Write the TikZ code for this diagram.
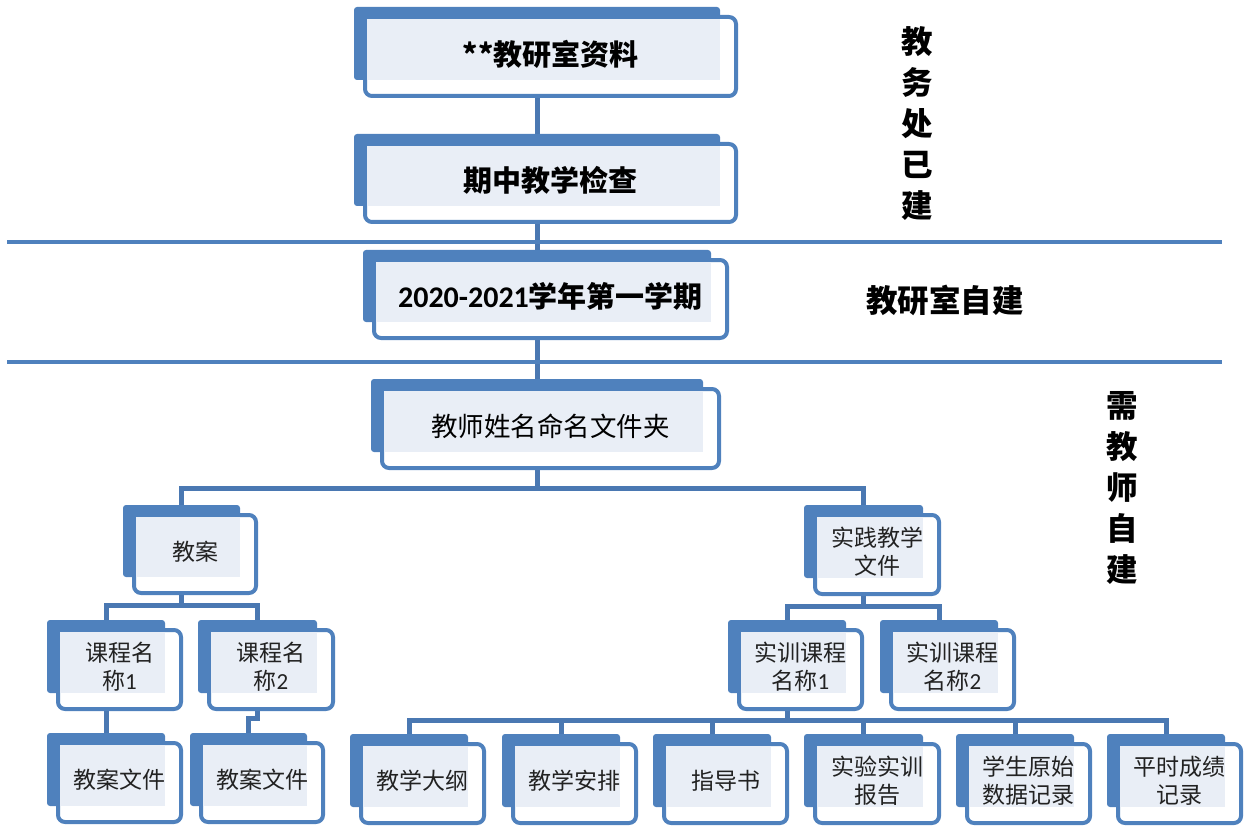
\documentclass[tikz,border=0pt]{standalone}
\usepackage{fontspec}
\newfontfamily\cjk{Noto Sans CJK SC}
\newfontfamily\calf{Carlito}
\usetikzlibrary{backgrounds}
\definecolor{bl}{HTML}{4F81BD}
\definecolor{lt}{HTML}{E9EEF6}
\definecolor{cn}{HTML}{4A78B2}
\definecolor{tx}{HTML}{222222}
\tikzset{
  conn/.style={draw=cn,line width=5pt},
  sepline/.style={draw=bl,line width=4pt},
  toptext/.style={font=\cjk\bfseries\fontsize{29}{34}\selectfont,text=black,align=center},
  midtext/.style={font=\cjk\fontsize{26.5}{32}\selectfont,text=black,align=center},
  lowtext/.style={font=\cjk\fontsize{23}{28}\selectfont,text=tx,align=center},
  sidetext/.style={font=\cjk\bfseries\fontsize{31.5}{41}\selectfont,text=black,align=center}
}
\newcommand\frm[7]{%
  \fill[bl,rounded corners=3pt] (#2,#3) rectangle (#4,#5);
  \draw[bl,line width=4pt,fill=white,rounded corners=7pt] ({#2+11},{#3+10}) rectangle ({#4+16},{#5+16});
  \fill[lt] ({#2+13},{#3+12}) rectangle (#4,#5);
  \node[inner sep=0,minimum width={#4-#2},minimum height={#5-#3}] (#1) at ({(#2+#4)/2},{(#3+#5)/2}) {};
  \node[#6] (#1t) at ({(#2+#4+27)/2},{(#3+#5+21)/2}) {#7};
}
\begin{document}
\begin{tikzpicture}[x=1pt,y=-1pt]
\useasboundingbox (0,0) rectangle (1249,826);
% separator lines
\coordinate (s1a) at (7,242); \coordinate (s1b) at (1222,242);
\coordinate (s2a) at (7,362); \coordinate (s2b) at (1222,362);
\draw[sepline] (s1a) -- (s1b);
\draw[sepline] (s2a) -- (s2b);
% frames
\frm{n1}{354}{7}{720}{80}{toptext}{**教研室资料}
\frm{n2}{354}{134}{720}{206}{toptext}{期中教学检查}
\frm{n3}{363}{250}{711}{322}{toptext}{{\calf\bfseries\fontsize{30}{34}\selectfont 2020-2021}学年第一学期}
\frm{n4}{371}{379}{703}{452}{midtext}{教师姓名命名文件夹}
\frm{jA}{123}{505}{240}{577}{lowtext}{教案}
\frm{jB}{804}{505}{923}{578}{lowtext}{实践教学\\文件}
\frm{kA1}{47}{620}{165}{693}{lowtext}{课程名\\称{\calf 1}}
\frm{kA2}{198}{620}{317}{693}{lowtext}{课程名\\称{\calf 2}}
\frm{kB1}{728}{620}{846}{693}{lowtext}{实训课程\\名称{\calf 1}}
\frm{kB2}{880}{620}{998}{693}{lowtext}{实训课程\\名称{\calf 2}}
\frm{wA1}{47}{733}{165}{806}{lowtext}{教案文件}
\frm{wA2}{190}{733}{307}{806}{lowtext}{教案文件}
\frm{b1}{350}{734}{468}{807}{lowtext}{教学大纲}
\frm{b2}{502}{734}{620}{807}{lowtext}{教学安排}
\frm{b3}{653}{734}{771}{807}{lowtext}{指导书}
\frm{b4}{804}{734}{923}{807}{lowtext}{实验实训\\报告}
\frm{b5}{956}{734}{1074}{807}{lowtext}{学生原始\\数据记录}
\frm{b6}{1107}{734}{1225}{807}{lowtext}{平时成绩\\记录}
% side labels
\node[sidetext] (lab1) at (917,124) {教\\务\\处\\已\\建};
\node[sidetext] (lab2) at (945,300) {教研室自建};
\node[sidetext] (lab3) at (1122,488) {需\\教\\师\\自\\建};
% connectors
\begin{scope}[on background layer]
\draw[conn] (n1.south) -- (n2.north);
\draw[conn] (n2.south) -- (n3.north);
\draw[conn] (n3.south) -- (n4.north);
\draw[conn] (n4.south) -- (n4.south |- 0,488) -| (jA.north);
\draw[conn] (n4.south |- 0,488) -| (jB.north);
\draw[conn] (jA.south) -- (jA.south |- 0,605) -| (kA1.north);
\draw[conn] (jA.south |- 0,605) -| (kA2.north);
\draw[conn] (jB.south) -- (jB.south |- 0,606) -| (kB1.north);
\draw[conn] (jB.south |- 0,606) -| (kB2.north);
\draw[conn] (kA1.south) -- (wA1.north);
\draw[conn] (kA2.south) -- (kA2.south |- 0,718) -| (wA2.north);
\draw[conn] (kB1.south) -- (kB1.south |- 0,720) -| (b1.north);
\draw[conn] (kB1.south |- 0,720) -| (b2.north);
\draw[conn] (kB1.south |- 0,720) -| (b3.north);
\draw[conn] (kB1.south |- 0,720) -| (b4.north);
\draw[conn] (kB1.south |- 0,720) -| (b5.north);
\draw[conn] (kB1.south |- 0,720) -| (b6.north);
\end{scope}
\end{tikzpicture}
\end{document}
